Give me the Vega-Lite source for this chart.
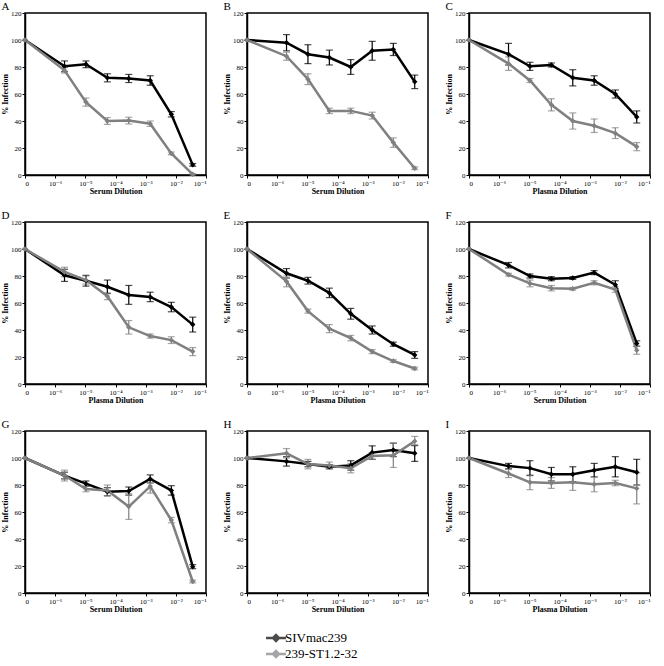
{
"$schema": "https://vega.github.io/schema/vega-lite/v6.json",
"padding": {"left": 0, "top": 0, "right": 0, "bottom": 0},
"background": "white",
"columns": 3,
"spacing": {"row": 13, "column": 14},
"data": {"values": [
{"p":"A","s":"SIVmac239","x":0,"y":100,"e":0},{"p":"A","s":"SIVmac239","x":1.31,"y":80.5,"e":4},{"p":"A","s":"SIVmac239","x":2.02,"y":82,"e":2.5},{"p":"A","s":"SIVmac239","x":2.73,"y":72,"e":3},{"p":"A","s":"SIVmac239","x":3.44,"y":71.5,"e":3},{"p":"A","s":"SIVmac239","x":4.15,"y":70,"e":3.5},{"p":"A","s":"SIVmac239","x":4.85,"y":45,"e":2},{"p":"A","s":"SIVmac239","x":5.56,"y":7.5,"e":1},
{"p":"A","s":"239-ST1.2-32","x":0,"y":100,"e":0},{"p":"A","s":"239-ST1.2-32","x":1.31,"y":77.5,"e":2},{"p":"A","s":"239-ST1.2-32","x":2.02,"y":54,"e":3},{"p":"A","s":"239-ST1.2-32","x":2.73,"y":40,"e":2.5},{"p":"A","s":"239-ST1.2-32","x":3.44,"y":40.3,"e":2.5},{"p":"A","s":"239-ST1.2-32","x":4.15,"y":38,"e":2},{"p":"A","s":"239-ST1.2-32","x":4.85,"y":16,"e":1},{"p":"A","s":"239-ST1.2-32","x":5.56,"y":0.5,"e":0.5},
{"p":"B","s":"SIVmac239","x":0,"y":100,"e":0},{"p":"B","s":"SIVmac239","x":1.31,"y":98,"e":6},{"p":"B","s":"SIVmac239","x":2.02,"y":89.5,"e":7},{"p":"B","s":"SIVmac239","x":2.73,"y":87,"e":5.5},{"p":"B","s":"SIVmac239","x":3.44,"y":80,"e":5.5},{"p":"B","s":"SIVmac239","x":4.15,"y":92,"e":7},{"p":"B","s":"SIVmac239","x":4.85,"y":93,"e":4.5},{"p":"B","s":"SIVmac239","x":5.56,"y":69,"e":5},
{"p":"B","s":"239-ST1.2-32","x":0,"y":100,"e":0},{"p":"B","s":"239-ST1.2-32","x":1.31,"y":88,"e":3},{"p":"B","s":"239-ST1.2-32","x":2.02,"y":71,"e":4},{"p":"B","s":"239-ST1.2-32","x":2.73,"y":47.5,"e":2},{"p":"B","s":"239-ST1.2-32","x":3.44,"y":47.5,"e":2},{"p":"B","s":"239-ST1.2-32","x":4.15,"y":44,"e":2.5},{"p":"B","s":"239-ST1.2-32","x":4.85,"y":24,"e":3.5},{"p":"B","s":"239-ST1.2-32","x":5.56,"y":5,"e":1},
{"p":"C","s":"SIVmac239","x":0,"y":100,"e":0},{"p":"C","s":"SIVmac239","x":1.31,"y":89.5,"e":8},{"p":"C","s":"SIVmac239","x":2.02,"y":80.5,"e":3},{"p":"C","s":"SIVmac239","x":2.73,"y":81.5,"e":1.5},{"p":"C","s":"SIVmac239","x":3.44,"y":72,"e":6},{"p":"C","s":"SIVmac239","x":4.15,"y":70,"e":3.5},{"p":"C","s":"SIVmac239","x":4.85,"y":60,"e":3},{"p":"C","s":"SIVmac239","x":5.56,"y":43,"e":4.5},
{"p":"C","s":"239-ST1.2-32","x":0,"y":100,"e":0},{"p":"C","s":"239-ST1.2-32","x":1.31,"y":82.5,"e":5},{"p":"C","s":"239-ST1.2-32","x":2.02,"y":70,"e":1.5},{"p":"C","s":"239-ST1.2-32","x":2.73,"y":52,"e":4.5},{"p":"C","s":"239-ST1.2-32","x":3.44,"y":40,"e":6},{"p":"C","s":"239-ST1.2-32","x":4.15,"y":36.5,"e":5},{"p":"C","s":"239-ST1.2-32","x":4.85,"y":31,"e":4},{"p":"C","s":"239-ST1.2-32","x":5.56,"y":21,"e":3},
{"p":"D","s":"SIVmac239","x":0,"y":100,"e":0},{"p":"D","s":"SIVmac239","x":1.31,"y":80.5,"e":4.5},{"p":"D","s":"SIVmac239","x":2.02,"y":76.5,"e":4},{"p":"D","s":"SIVmac239","x":2.73,"y":72,"e":5},{"p":"D","s":"SIVmac239","x":3.44,"y":66,"e":7},{"p":"D","s":"SIVmac239","x":4.15,"y":64.5,"e":3.5},{"p":"D","s":"SIVmac239","x":4.85,"y":57,"e":3.5},{"p":"D","s":"SIVmac239","x":5.56,"y":44,"e":5.5},
{"p":"D","s":"239-ST1.2-32","x":0,"y":100,"e":0},{"p":"D","s":"239-ST1.2-32","x":1.31,"y":83,"e":3.5},{"p":"D","s":"239-ST1.2-32","x":2.02,"y":77,"e":3},{"p":"D","s":"239-ST1.2-32","x":2.73,"y":65,"e":2.5},{"p":"D","s":"239-ST1.2-32","x":3.44,"y":42,"e":5},{"p":"D","s":"239-ST1.2-32","x":4.15,"y":35.5,"e":1.5},{"p":"D","s":"239-ST1.2-32","x":4.85,"y":32.5,"e":2.5},{"p":"D","s":"239-ST1.2-32","x":5.56,"y":24,"e":3},
{"p":"E","s":"SIVmac239","x":0,"y":100,"e":0},{"p":"E","s":"SIVmac239","x":1.31,"y":82,"e":3.5},{"p":"E","s":"SIVmac239","x":2.02,"y":76.5,"e":2.5},{"p":"E","s":"SIVmac239","x":2.73,"y":67.5,"e":3.5},{"p":"E","s":"SIVmac239","x":3.44,"y":52,"e":4},{"p":"E","s":"SIVmac239","x":4.15,"y":40,"e":3},{"p":"E","s":"SIVmac239","x":4.85,"y":29.5,"e":1.5},{"p":"E","s":"SIVmac239","x":5.56,"y":21.5,"e":2.5},
{"p":"E","s":"239-ST1.2-32","x":0,"y":100,"e":0},{"p":"E","s":"239-ST1.2-32","x":1.31,"y":76,"e":4},{"p":"E","s":"239-ST1.2-32","x":2.02,"y":54,"e":1.5},{"p":"E","s":"239-ST1.2-32","x":2.73,"y":41,"e":3},{"p":"E","s":"239-ST1.2-32","x":3.44,"y":34,"e":2},{"p":"E","s":"239-ST1.2-32","x":4.15,"y":24,"e":1.5},{"p":"E","s":"239-ST1.2-32","x":4.85,"y":17,"e":1},{"p":"E","s":"239-ST1.2-32","x":5.56,"y":11.5,"e":1},
{"p":"F","s":"SIVmac239","x":0,"y":100,"e":0},{"p":"F","s":"SIVmac239","x":1.31,"y":88,"e":2},{"p":"F","s":"SIVmac239","x":2.02,"y":80,"e":1.5},{"p":"F","s":"SIVmac239","x":2.73,"y":78,"e":1.5},{"p":"F","s":"SIVmac239","x":3.44,"y":78.5,"e":1},{"p":"F","s":"SIVmac239","x":4.15,"y":82.5,"e":1.5},{"p":"F","s":"SIVmac239","x":4.85,"y":73.5,"e":3},{"p":"F","s":"SIVmac239","x":5.56,"y":30,"e":2},
{"p":"F","s":"239-ST1.2-32","x":0,"y":100,"e":0},{"p":"F","s":"239-ST1.2-32","x":1.31,"y":81,"e":1},{"p":"F","s":"239-ST1.2-32","x":2.02,"y":74.5,"e":2.5},{"p":"F","s":"239-ST1.2-32","x":2.73,"y":71,"e":2},{"p":"F","s":"239-ST1.2-32","x":3.44,"y":70.5,"e":1},{"p":"F","s":"239-ST1.2-32","x":4.15,"y":75,"e":1.5},{"p":"F","s":"239-ST1.2-32","x":4.85,"y":70,"e":2},{"p":"F","s":"239-ST1.2-32","x":5.56,"y":25,"e":3},
{"p":"G","s":"SIVmac239","x":0,"y":100,"e":0},{"p":"G","s":"SIVmac239","x":1.31,"y":87,"e":2.5},{"p":"G","s":"SIVmac239","x":2.02,"y":81,"e":2},{"p":"G","s":"SIVmac239","x":2.73,"y":75,"e":3},{"p":"G","s":"SIVmac239","x":3.44,"y":75.5,"e":3},{"p":"G","s":"SIVmac239","x":4.15,"y":84.5,"e":3},{"p":"G","s":"SIVmac239","x":4.85,"y":76,"e":3.5},{"p":"G","s":"SIVmac239","x":5.56,"y":19.5,"e":1.5},
{"p":"G","s":"239-ST1.2-32","x":0,"y":100,"e":0},{"p":"G","s":"239-ST1.2-32","x":1.31,"y":87,"e":4},{"p":"G","s":"239-ST1.2-32","x":2.02,"y":77,"e":2},{"p":"G","s":"239-ST1.2-32","x":2.73,"y":76,"e":4},{"p":"G","s":"239-ST1.2-32","x":3.44,"y":64,"e":9.5},{"p":"G","s":"239-ST1.2-32","x":4.15,"y":79,"e":5},{"p":"G","s":"239-ST1.2-32","x":4.85,"y":54,"e":2},{"p":"G","s":"239-ST1.2-32","x":5.56,"y":8.5,"e":1},
{"p":"H","s":"SIVmac239","x":0,"y":100,"e":0},{"p":"H","s":"SIVmac239","x":1.31,"y":97.5,"e":3.5},{"p":"H","s":"SIVmac239","x":2.02,"y":95.5,"e":2},{"p":"H","s":"SIVmac239","x":2.73,"y":93.5,"e":1.5},{"p":"H","s":"SIVmac239","x":3.44,"y":94.5,"e":3.5},{"p":"H","s":"SIVmac239","x":4.15,"y":104,"e":5},{"p":"H","s":"SIVmac239","x":4.85,"y":106,"e":5},{"p":"H","s":"SIVmac239","x":5.56,"y":103.5,"e":6},
{"p":"H","s":"239-ST1.2-32","x":0,"y":100,"e":0},{"p":"H","s":"239-ST1.2-32","x":1.31,"y":103.5,"e":3.5},{"p":"H","s":"239-ST1.2-32","x":2.02,"y":95.5,"e":3.5},{"p":"H","s":"239-ST1.2-32","x":2.73,"y":94.5,"e":2.5},{"p":"H","s":"239-ST1.2-32","x":3.44,"y":92.5,"e":3.5},{"p":"H","s":"239-ST1.2-32","x":4.15,"y":101.5,"e":2.5},{"p":"H","s":"239-ST1.2-32","x":4.85,"y":102,"e":9},{"p":"H","s":"239-ST1.2-32","x":5.56,"y":112.5,"e":3.5},
{"p":"I","s":"SIVmac239","x":0,"y":100,"e":0},{"p":"I","s":"SIVmac239","x":1.31,"y":94,"e":2},{"p":"I","s":"SIVmac239","x":2.02,"y":92.5,"e":5.5},{"p":"I","s":"SIVmac239","x":2.73,"y":88,"e":5},{"p":"I","s":"SIVmac239","x":3.44,"y":88,"e":5.5},{"p":"I","s":"SIVmac239","x":4.15,"y":91,"e":5},{"p":"I","s":"SIVmac239","x":4.85,"y":93.5,"e":7.5},{"p":"I","s":"SIVmac239","x":5.56,"y":89.5,"e":9.5},
{"p":"I","s":"239-ST1.2-32","x":0,"y":100,"e":0},{"p":"I","s":"239-ST1.2-32","x":1.31,"y":88.5,"e":3},{"p":"I","s":"239-ST1.2-32","x":2.02,"y":82,"e":5.5},{"p":"I","s":"239-ST1.2-32","x":2.73,"y":81.5,"e":4},{"p":"I","s":"239-ST1.2-32","x":3.44,"y":82,"e":6},{"p":"I","s":"239-ST1.2-32","x":4.15,"y":80.5,"e":5.5},{"p":"I","s":"239-ST1.2-32","x":4.85,"y":81.5,"e":2},{"p":"I","s":"239-ST1.2-32","x":5.56,"y":77.5,"e":11.5}
]},
"concat": [
{"width":181,"height":162,"title":"A","transform":[{"filter":"datum.p == 'A'"}],
 "encoding":{"x":{"field":"x","type":"quantitative","scale":{"domain":[0,6],"nice":false,"zero":false},"axis":{"title":"Serum Dilution","values":[0,1,2,3,4,5,6],"labelExpr":"datum.value == 0 ? '0' : '10' + ['', '⁻⁶', '⁻⁵', '⁻⁴', '⁻³', '⁻²', '⁻¹'][datum.value]"}},
  "y":{"field":"y","type":"quantitative","scale":{"domain":[0,120],"nice":false},"axis":{"title":"% Infection","values":[0,20,40,60,80,100,120]}},
  "color":{"field":"s","type":"nominal","title":null,"scale":{"domain":["SIVmac239","239-ST1.2-32"],"range":["#000000","#808080"]},"legend":{"orient":"none","legendX":243,"legendY":617,"symbolType":"M-1.54,0L1.54,0M-0.46,0L0,-0.46L0.46,0L0,0.46Z","symbolSize":169,"symbolStrokeWidth":2.5,"labelFont":"Liberation Serif","labelFontSize":13,"labelColor":"black","rowPadding":0,"labelOffset":1}}},
 "layer":[
  {"transform":[{"filter":"datum.e > 0"}],"mark":{"type":"errorbar","ticks":{"size":7},"thickness":1.2},"encoding":{"yError":{"field":"e"}}},
  {"mark":{"type":"line","strokeWidth":2.5}},
  {"mark":{"type":"point","shape":"diamond","filled":true,"size":30,"opacity":1}},
  {"data":{"values":[{}]},"mark":{"type":"text","text":"//","fontSize":10,"fontWeight":"bold","baseline":"middle"},"encoding":{"x":{"datum":0.5},"y":{"datum":0},"color":{"value":"black"}}}
 ]},
{"width":181,"height":162,"title":"B","transform":[{"filter":"datum.p == 'B'"}],
 "encoding":{"x":{"field":"x","type":"quantitative","scale":{"domain":[0,6],"nice":false,"zero":false},"axis":{"title":"Serum Dilution","values":[0,1,2,3,4,5,6],"labelExpr":"datum.value == 0 ? '0' : '10' + ['', '⁻⁶', '⁻⁵', '⁻⁴', '⁻³', '⁻²', '⁻¹'][datum.value]"}},
  "y":{"field":"y","type":"quantitative","scale":{"domain":[0,120],"nice":false},"axis":{"title":"% Infection","values":[0,20,40,60,80,100,120]}},
  "color":{"field":"s","type":"nominal","title":null,"scale":{"domain":["SIVmac239","239-ST1.2-32"],"range":["#000000","#808080"]},"legend":{"orient":"none","legendX":243,"legendY":617,"symbolType":"M-1.54,0L1.54,0M-0.46,0L0,-0.46L0.46,0L0,0.46Z","symbolSize":169,"symbolStrokeWidth":2.5,"labelFont":"Liberation Serif","labelFontSize":13,"labelColor":"black","rowPadding":0,"labelOffset":1}}},
 "layer":[
  {"transform":[{"filter":"datum.e > 0"}],"mark":{"type":"errorbar","ticks":{"size":7},"thickness":1.2},"encoding":{"yError":{"field":"e"}}},
  {"mark":{"type":"line","strokeWidth":2.5}},
  {"mark":{"type":"point","shape":"diamond","filled":true,"size":30,"opacity":1}},
  {"data":{"values":[{}]},"mark":{"type":"text","text":"//","fontSize":10,"fontWeight":"bold","baseline":"middle"},"encoding":{"x":{"datum":0.5},"y":{"datum":0},"color":{"value":"black"}}}
 ]},
{"width":181,"height":162,"title":"C","transform":[{"filter":"datum.p == 'C'"}],
 "encoding":{"x":{"field":"x","type":"quantitative","scale":{"domain":[0,6],"nice":false,"zero":false},"axis":{"title":"Plasma Dilution","values":[0,1,2,3,4,5,6],"labelExpr":"datum.value == 0 ? '0' : '10' + ['', '⁻⁶', '⁻⁵', '⁻⁴', '⁻³', '⁻²', '⁻¹'][datum.value]"}},
  "y":{"field":"y","type":"quantitative","scale":{"domain":[0,120],"nice":false},"axis":{"title":"% Infection","values":[0,20,40,60,80,100,120]}},
  "color":{"field":"s","type":"nominal","title":null,"scale":{"domain":["SIVmac239","239-ST1.2-32"],"range":["#000000","#808080"]},"legend":{"orient":"none","legendX":243,"legendY":617,"symbolType":"M-1.54,0L1.54,0M-0.46,0L0,-0.46L0.46,0L0,0.46Z","symbolSize":169,"symbolStrokeWidth":2.5,"labelFont":"Liberation Serif","labelFontSize":13,"labelColor":"black","rowPadding":0,"labelOffset":1}}},
 "layer":[
  {"transform":[{"filter":"datum.e > 0"}],"mark":{"type":"errorbar","ticks":{"size":7},"thickness":1.2},"encoding":{"yError":{"field":"e"}}},
  {"mark":{"type":"line","strokeWidth":2.5}},
  {"mark":{"type":"point","shape":"diamond","filled":true,"size":30,"opacity":1}},
  {"data":{"values":[{}]},"mark":{"type":"text","text":"//","fontSize":10,"fontWeight":"bold","baseline":"middle"},"encoding":{"x":{"datum":0.5},"y":{"datum":0},"color":{"value":"black"}}}
 ]},
{"width":181,"height":162,"title":"D","transform":[{"filter":"datum.p == 'D'"}],
 "encoding":{"x":{"field":"x","type":"quantitative","scale":{"domain":[0,6],"nice":false,"zero":false},"axis":{"title":"Plasma Dilution","values":[0,1,2,3,4,5,6],"labelExpr":"datum.value == 0 ? '0' : '10' + ['', '⁻⁶', '⁻⁵', '⁻⁴', '⁻³', '⁻²', '⁻¹'][datum.value]"}},
  "y":{"field":"y","type":"quantitative","scale":{"domain":[0,120],"nice":false},"axis":{"title":"% Infection","values":[0,20,40,60,80,100,120]}},
  "color":{"field":"s","type":"nominal","title":null,"scale":{"domain":["SIVmac239","239-ST1.2-32"],"range":["#000000","#808080"]},"legend":{"orient":"none","legendX":243,"legendY":617,"symbolType":"M-1.54,0L1.54,0M-0.46,0L0,-0.46L0.46,0L0,0.46Z","symbolSize":169,"symbolStrokeWidth":2.5,"labelFont":"Liberation Serif","labelFontSize":13,"labelColor":"black","rowPadding":0,"labelOffset":1}}},
 "layer":[
  {"transform":[{"filter":"datum.e > 0"}],"mark":{"type":"errorbar","ticks":{"size":7},"thickness":1.2},"encoding":{"yError":{"field":"e"}}},
  {"mark":{"type":"line","strokeWidth":2.5}},
  {"mark":{"type":"point","shape":"diamond","filled":true,"size":30,"opacity":1}},
  {"data":{"values":[{}]},"mark":{"type":"text","text":"//","fontSize":10,"fontWeight":"bold","baseline":"middle"},"encoding":{"x":{"datum":0.5},"y":{"datum":0},"color":{"value":"black"}}}
 ]},
{"width":181,"height":162,"title":"E","transform":[{"filter":"datum.p == 'E'"}],
 "encoding":{"x":{"field":"x","type":"quantitative","scale":{"domain":[0,6],"nice":false,"zero":false},"axis":{"title":"Plasma Dilution","values":[0,1,2,3,4,5,6],"labelExpr":"datum.value == 0 ? '0' : '10' + ['', '⁻⁶', '⁻⁵', '⁻⁴', '⁻³', '⁻²', '⁻¹'][datum.value]"}},
  "y":{"field":"y","type":"quantitative","scale":{"domain":[0,120],"nice":false},"axis":{"title":"% Infection","values":[0,20,40,60,80,100,120]}},
  "color":{"field":"s","type":"nominal","title":null,"scale":{"domain":["SIVmac239","239-ST1.2-32"],"range":["#000000","#808080"]},"legend":{"orient":"none","legendX":243,"legendY":617,"symbolType":"M-1.54,0L1.54,0M-0.46,0L0,-0.46L0.46,0L0,0.46Z","symbolSize":169,"symbolStrokeWidth":2.5,"labelFont":"Liberation Serif","labelFontSize":13,"labelColor":"black","rowPadding":0,"labelOffset":1}}},
 "layer":[
  {"transform":[{"filter":"datum.e > 0"}],"mark":{"type":"errorbar","ticks":{"size":7},"thickness":1.2},"encoding":{"yError":{"field":"e"}}},
  {"mark":{"type":"line","strokeWidth":2.5}},
  {"mark":{"type":"point","shape":"diamond","filled":true,"size":30,"opacity":1}},
  {"data":{"values":[{}]},"mark":{"type":"text","text":"//","fontSize":10,"fontWeight":"bold","baseline":"middle"},"encoding":{"x":{"datum":0.5},"y":{"datum":0},"color":{"value":"black"}}}
 ]},
{"width":181,"height":162,"title":"F","transform":[{"filter":"datum.p == 'F'"}],
 "encoding":{"x":{"field":"x","type":"quantitative","scale":{"domain":[0,6],"nice":false,"zero":false},"axis":{"title":"Serum Dilution","values":[0,1,2,3,4,5,6],"labelExpr":"datum.value == 0 ? '0' : '10' + ['', '⁻⁶', '⁻⁵', '⁻⁴', '⁻³', '⁻²', '⁻¹'][datum.value]"}},
  "y":{"field":"y","type":"quantitative","scale":{"domain":[0,120],"nice":false},"axis":{"title":"% Infection","values":[0,20,40,60,80,100,120]}},
  "color":{"field":"s","type":"nominal","title":null,"scale":{"domain":["SIVmac239","239-ST1.2-32"],"range":["#000000","#808080"]},"legend":{"orient":"none","legendX":243,"legendY":617,"symbolType":"M-1.54,0L1.54,0M-0.46,0L0,-0.46L0.46,0L0,0.46Z","symbolSize":169,"symbolStrokeWidth":2.5,"labelFont":"Liberation Serif","labelFontSize":13,"labelColor":"black","rowPadding":0,"labelOffset":1}}},
 "layer":[
  {"transform":[{"filter":"datum.e > 0"}],"mark":{"type":"errorbar","ticks":{"size":7},"thickness":1.2},"encoding":{"yError":{"field":"e"}}},
  {"mark":{"type":"line","strokeWidth":2.5}},
  {"mark":{"type":"point","shape":"diamond","filled":true,"size":30,"opacity":1}},
  {"data":{"values":[{}]},"mark":{"type":"text","text":"//","fontSize":10,"fontWeight":"bold","baseline":"middle"},"encoding":{"x":{"datum":0.5},"y":{"datum":0},"color":{"value":"black"}}}
 ]},
{"width":181,"height":162,"title":"G","transform":[{"filter":"datum.p == 'G'"}],
 "encoding":{"x":{"field":"x","type":"quantitative","scale":{"domain":[0,6],"nice":false,"zero":false},"axis":{"title":"Serum Dilution","values":[0,1,2,3,4,5,6],"labelExpr":"datum.value == 0 ? '0' : '10' + ['', '⁻⁶', '⁻⁵', '⁻⁴', '⁻³', '⁻²', '⁻¹'][datum.value]"}},
  "y":{"field":"y","type":"quantitative","scale":{"domain":[0,120],"nice":false},"axis":{"title":"% Infection","values":[0,20,40,60,80,100,120]}},
  "color":{"field":"s","type":"nominal","title":null,"scale":{"domain":["SIVmac239","239-ST1.2-32"],"range":["#000000","#808080"]},"legend":{"orient":"none","legendX":243,"legendY":617,"symbolType":"M-1.54,0L1.54,0M-0.46,0L0,-0.46L0.46,0L0,0.46Z","symbolSize":169,"symbolStrokeWidth":2.5,"labelFont":"Liberation Serif","labelFontSize":13,"labelColor":"black","rowPadding":0,"labelOffset":1}}},
 "layer":[
  {"transform":[{"filter":"datum.e > 0"}],"mark":{"type":"errorbar","ticks":{"size":7},"thickness":1.2},"encoding":{"yError":{"field":"e"}}},
  {"mark":{"type":"line","strokeWidth":2.5}},
  {"mark":{"type":"point","shape":"diamond","filled":true,"size":30,"opacity":1}},
  {"data":{"values":[{}]},"mark":{"type":"text","text":"//","fontSize":10,"fontWeight":"bold","baseline":"middle"},"encoding":{"x":{"datum":0.5},"y":{"datum":0},"color":{"value":"black"}}}
 ]},
{"width":181,"height":162,"title":"H","transform":[{"filter":"datum.p == 'H'"}],
 "encoding":{"x":{"field":"x","type":"quantitative","scale":{"domain":[0,6],"nice":false,"zero":false},"axis":{"title":"Serum Dilution","values":[0,1,2,3,4,5,6],"labelExpr":"datum.value == 0 ? '0' : '10' + ['', '⁻⁶', '⁻⁵', '⁻⁴', '⁻³', '⁻²', '⁻¹'][datum.value]"}},
  "y":{"field":"y","type":"quantitative","scale":{"domain":[0,120],"nice":false},"axis":{"title":"% Infection","values":[0,20,40,60,80,100,120]}},
  "color":{"field":"s","type":"nominal","title":null,"scale":{"domain":["SIVmac239","239-ST1.2-32"],"range":["#000000","#808080"]},"legend":{"orient":"none","legendX":243,"legendY":617,"symbolType":"M-1.54,0L1.54,0M-0.46,0L0,-0.46L0.46,0L0,0.46Z","symbolSize":169,"symbolStrokeWidth":2.5,"labelFont":"Liberation Serif","labelFontSize":13,"labelColor":"black","rowPadding":0,"labelOffset":1}}},
 "layer":[
  {"transform":[{"filter":"datum.e > 0"}],"mark":{"type":"errorbar","ticks":{"size":7},"thickness":1.2},"encoding":{"yError":{"field":"e"}}},
  {"mark":{"type":"line","strokeWidth":2.5}},
  {"mark":{"type":"point","shape":"diamond","filled":true,"size":30,"opacity":1}},
  {"data":{"values":[{}]},"mark":{"type":"text","text":"//","fontSize":10,"fontWeight":"bold","baseline":"middle"},"encoding":{"x":{"datum":0.5},"y":{"datum":0},"color":{"value":"black"}}}
 ]},
{"width":181,"height":162,"title":"I","transform":[{"filter":"datum.p == 'I'"}],
 "encoding":{"x":{"field":"x","type":"quantitative","scale":{"domain":[0,6],"nice":false,"zero":false},"axis":{"title":"Plasma Dilution","values":[0,1,2,3,4,5,6],"labelExpr":"datum.value == 0 ? '0' : '10' + ['', '⁻⁶', '⁻⁵', '⁻⁴', '⁻³', '⁻²', '⁻¹'][datum.value]"}},
  "y":{"field":"y","type":"quantitative","scale":{"domain":[0,120],"nice":false},"axis":{"title":"% Infection","values":[0,20,40,60,80,100,120]}},
  "color":{"field":"s","type":"nominal","title":null,"scale":{"domain":["SIVmac239","239-ST1.2-32"],"range":["#000000","#808080"]},"legend":{"orient":"none","legendX":243,"legendY":617,"symbolType":"M-1.54,0L1.54,0M-0.46,0L0,-0.46L0.46,0L0,0.46Z","symbolSize":169,"symbolStrokeWidth":2.5,"labelFont":"Liberation Serif","labelFontSize":13,"labelColor":"black","rowPadding":0,"labelOffset":1}}},
 "layer":[
  {"transform":[{"filter":"datum.e > 0"}],"mark":{"type":"errorbar","ticks":{"size":7},"thickness":1.2},"encoding":{"yError":{"field":"e"}}},
  {"mark":{"type":"line","strokeWidth":2.5}},
  {"mark":{"type":"point","shape":"diamond","filled":true,"size":30,"opacity":1}},
  {"data":{"values":[{}]},"mark":{"type":"text","text":"//","fontSize":10,"fontWeight":"bold","baseline":"middle"},"encoding":{"x":{"datum":0.5},"y":{"datum":0},"color":{"value":"black"}}}
 ]}
],
"config": {
 "font": "Liberation Serif",
 "view": {"stroke": "black", "strokeWidth": 1.5},
 "axis": {"grid": false, "domainColor": "black", "domainWidth": 1.5, "tickColor": "black", "tickSize": 3, "labelFont": "Liberation Serif, DejaVu Serif", "labelFontSize": 7, "labelColor": "black", "labelPadding": 1, "titleFont": "Liberation Serif", "titleFontSize": 8, "titleFontWeight": "bold", "titleColor": "black", "titlePadding": 1},
 "title": {"font": "Liberation Serif", "fontSize": 11, "fontWeight": "normal", "anchor": "start", "offset": -3, "color": "black"}
}
}
